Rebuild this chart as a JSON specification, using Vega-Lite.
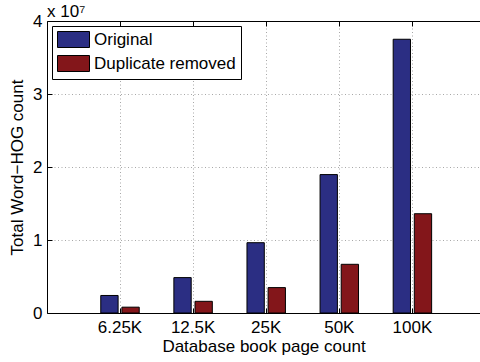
{
  "$schema": "https://vega.github.io/schema/vega-lite/v6.json",
  "autosize": {"type": "none"},
  "padding": {"left": 47, "top": 21, "right": 0, "bottom": 49},
  "width": 433,
  "height": 292,
  "background": "white",
  "title": {
    "text": "x 10⁷",
    "anchor": "start",
    "frame": "group",
    "baseline": "alphabetic",
    "offset": 0,
    "dy": 22,
    "fontSize": 17,
    "fontWeight": "normal",
    "font": "Liberation Sans",
    "color": "black"
  },
  "config": {
    "view": {"stroke": null},
    "axis": {
      "labelFont": "Liberation Sans",
      "titleFont": "Liberation Sans",
      "labelFontSize": 17,
      "titleFontSize": 17,
      "titleFontWeight": "normal",
      "labelColor": "black",
      "titleColor": "black",
      "domainColor": "black",
      "domainWidth": 1,
      "tickColor": "black",
      "gridColor": "#a8a8a8",
      "gridDash": [1, 2.5],
      "gridWidth": 1
    },
    "legend": {
      "labelFont": "Liberation Sans",
      "labelFontSize": 17,
      "labelColor": "black"
    }
  },
  "data": {
    "values": [
      {"pages": "6.25K", "series": "Original", "count": 2400000},
      {"pages": "12.5K", "series": "Original", "count": 4850000},
      {"pages": "25K", "series": "Original", "count": 9630000},
      {"pages": "50K", "series": "Original", "count": 18960000},
      {"pages": "100K", "series": "Original", "count": 37500000},
      {"pages": "6.25K", "series": "Duplicate removed", "count": 800000},
      {"pages": "12.5K", "series": "Duplicate removed", "count": 1600000},
      {"pages": "25K", "series": "Duplicate removed", "count": 3480000},
      {"pages": "50K", "series": "Duplicate removed", "count": 6670000},
      {"pages": "100K", "series": "Duplicate removed", "count": 13600000}
    ]
  },
  "resolve": {"axis": {"x": "independent"}},
  "layer": [
    {
      "mark": {"type": "bar", "stroke": "black", "strokeWidth": 1},
      "encoding": {
        "x": {
          "field": "pages",
          "type": "nominal",
          "sort": ["6.25K", "12.5K", "25K", "50K", "100K"],
          "scale": {"paddingInner": 0, "paddingOuter": 0.4617, "align": 0.54},
          "axis": {
            "orient": "bottom",
            "title": "Database book page count",
            "labelAngle": 0,
            "bandPosition": 0.5,
            "grid": true,
            "tickSize": -5,
            "labelPadding": 11,
            "titlePadding": 3
          }
        },
        "xOffset": {
          "field": "series",
          "type": "nominal",
          "sort": ["Original", "Duplicate removed"],
          "scale": {"paddingInner": 0.18, "paddingOuter": 0.82}
        },
        "y": {
          "field": "count",
          "type": "quantitative",
          "scale": {"domain": [0, 40000000], "nice": false},
          "axis": {
            "title": "Total Word−HOG count",
            "values": [0, 10000000, 20000000, 30000000, 40000000],
            "labelExpr": "format(datum.value / 10000000, 'd')",
            "grid": true,
            "tickSize": -5,
            "labelPadding": 10,
            "titlePadding": 6
          }
        },
        "fill": {
          "field": "series",
          "type": "nominal",
          "sort": ["Original", "Duplicate removed"],
          "scale": {"domain": ["Original", "Duplicate removed"], "range": ["#2b2e83", "#83161a"]},
          "legend": {
            "title": null,
            "orient": "top-left",
            "offset": 5,
            "padding": 5,
            "strokeColor": "black",
            "fillColor": "white",
            "symbolType": "M-1,-1H3V1H-1Z",
            "symbolSize": 256,
            "symbolStrokeColor": "black",
            "symbolStrokeWidth": 1,
            "symbolOpacity": 1,
            "labelOffset": 20,
            "rowPadding": 3
          }
        }
      }
    },
    {
      "mark": {"type": "rule", "opacity": 0},
      "encoding": {
        "x": {
          "field": "pages",
          "type": "nominal",
          "sort": ["6.25K", "12.5K", "25K", "50K", "100K"],
          "axis": {
            "orient": "top",
            "title": null,
            "labels": false,
            "bandPosition": 0.5,
            "grid": false,
            "tickSize": -5
          }
        }
      }
    }
  ]
}
